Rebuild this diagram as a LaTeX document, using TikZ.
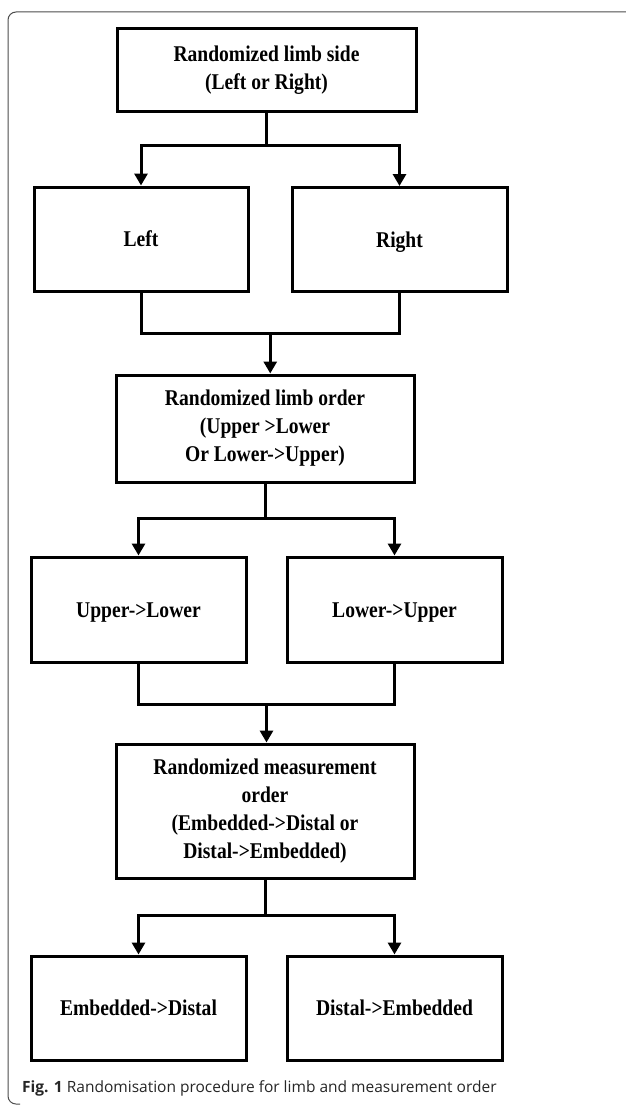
\documentclass[tikz,border=0pt]{standalone}
\usepackage{fontspec}
\setmainfont{Liberation Serif}
\newfontfamily\boxfont{Liberation Serif}[FakeStretch=0.87]
\newfontfamily\capfont{Open Sans}
\usetikzlibrary{arrows.meta,calc}
\tikzset{
  box/.style={draw, line width=3pt, inner sep=0pt, align=center,
    font=\boxfont\bfseries\fontsize{22.5}{28}\selectfont},
  onebox/.style={box, text height=15pt, text depth=0pt},
  conn/.style={line width=3pt},
  arr/.style={line width=3pt, -{Triangle[length=12pt,width=13pt]}},
  frame/.style={draw=black!70, line width=1pt}
}
\begin{document}
\begin{tikzpicture}[x=1pt,y=-1pt]
\useasboundingbox (0,0) rectangle (625,1105);
\draw[frame, rounded corners=8pt] (626,12) -- (8,12) -- (8,1104) -- (20,1104);
\node[box, minimum width=299pt, minimum height=83pt] (b1) at (266.5,70.5) {Randomized limb side\\(Left or Right)};
\node[onebox, minimum width=214pt, minimum height=104pt] (left) at (141,239) {Left};
\node[onebox, minimum width=215pt, minimum height=104pt] (right) at (399.5,239.5) {Right};
\node[box, minimum width=298pt, minimum height=107pt] (b3) at (265,428.5) {Randomized limb order\\(Upper >Lower\\Or Lower->Upper)};
\node[onebox, minimum width=215pt, minimum height=105pt] (ul) at (138.5,609.5) {Upper->Lower};
\node[onebox, minimum width=215pt, minimum height=105pt] (lu) at (394.5,609.5) {Lower->Upper};
\node[box, minimum width=298pt, minimum height=134pt] (b5) at (265,811) {Randomized measurement\\order\\(Embedded->Distal or\\Distal->Embedded)};
\node[onebox, minimum width=215pt, minimum height=104pt] (ed) at (138.5,1008) {Embedded->Distal};
\node[onebox, minimum width=215pt, minimum height=104pt] (de) at (394.5,1008) {Distal->Embedded};
% connectors
\coordinate (s1) at ($(b1.south)+(0,32)$);
\draw[conn] (b1.south) -- (s1);
\draw[arr] (s1) -| (left.north);
\draw[arr] (s1) -| (right.north);
\draw[conn] (left.south) -- ++(0,41) -| (right.south);
\coordinate (m1) at ($(left.south)!0.5!(right.south)+(0,41)$);
\draw[arr] (m1) -- (m1 |- b3.north);
\coordinate (s3) at ($(b3.south)+(0,35)$);
\draw[conn] (b3.south) -- (s3);
\draw[arr] (s3) -| (ul.north);
\draw[arr] (s3) -| (lu.north);
\draw[conn] (ul.south) -- ++(0,41) -| (lu.south);
\coordinate (m2) at ($(ul.south)!0.5!(lu.south)+(0,41)$);
\draw[arr] (m2) -- (m2 |- b5.north);
\coordinate (s5) at ($(b5.south)+(0,36)$);
\draw[conn] (b5.south) -- (s5);
\draw[arr] (s5) -| (ed.north);
\draw[arr] (s5) -| (de.north);
\node[anchor=base west, inner sep=0pt, font=\capfont\fontsize{15.5}{18}\selectfont, text=black!85] (cap) at (22,1092) {\textbf{Fig. 1} Randomisation procedure for limb and measurement order};
\end{tikzpicture}
\end{document}
